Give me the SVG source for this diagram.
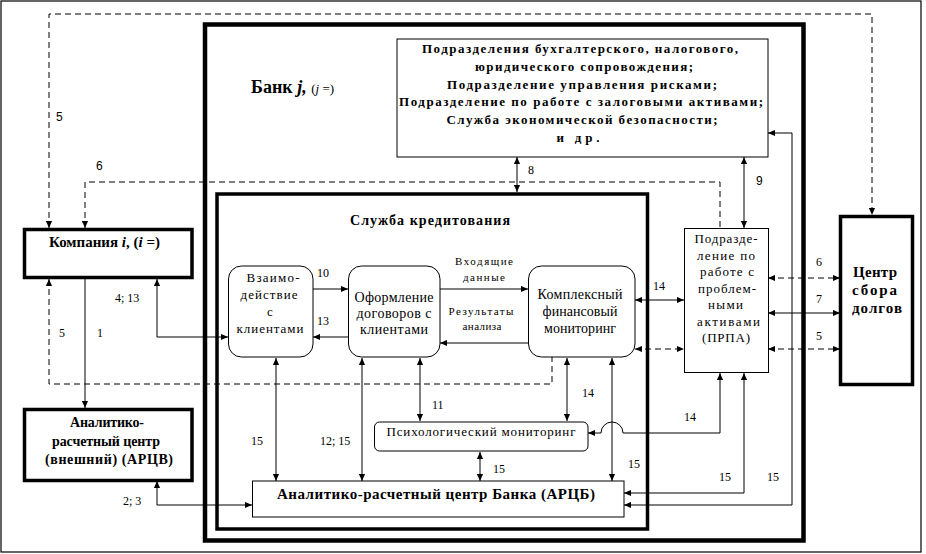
<svg xmlns="http://www.w3.org/2000/svg" width="926" height="554" viewBox="0 0 926 554">
<style>
.ln{fill:none;stroke:#000;stroke-width:1}
.ds{stroke-dasharray:6 4}
.bx{fill:#fff;stroke:#000;stroke-width:1}
.tk{fill:#fff;stroke:#000;stroke-width:3.5}
.t{font-family:"Liberation Serif","Times New Roman",serif;fill:#000}
.s{font-family:"Liberation Sans",Arial,sans-serif;fill:#000}
.b{font-weight:bold}
.n{font-size:12px}
.m{text-anchor:middle}
</style>
<defs>
<marker id="a" viewBox="0 0 8 8" refX="8" refY="4" markerWidth="7" markerHeight="7" markerUnits="userSpaceOnUse" orient="auto-start-reverse"><path d="M0,0.5 L8,4 L0,7.5 z" fill="#000"/></marker>
</defs>
<rect x="1" y="1" width="920" height="551" fill="#fff" stroke="#000" stroke-width="1.2"/>

<g id="bank">
<rect x="205" y="24.5" width="598.5" height="516" fill="none" stroke="#000" stroke-width="4.5"/>
<text class="t" x="251" y="93"><tspan class="b" font-size="18">Банк </tspan><tspan class="b" font-size="18" font-style="italic">j, </tspan><tspan font-size="13">(</tspan><tspan font-size="13" font-style="italic">j</tspan><tspan font-size="13"> =)</tspan></text>
</g>

<g id="credit-service">
<rect x="217" y="194" width="430.5" height="335" fill="none" stroke="#000" stroke-width="3.5"/>
<text class="t b" x="350" y="225" font-size="14" textLength="160" lengthAdjust="spacing">Служба кредитования</text>
</g>

<g id="connectors">
<path class="ln ds" d="M49,228 V14 H872 V215" marker-start="url(#a)" marker-end="url(#a)"/>
<path class="ln ds" d="M85,228 V182 H720 V228" marker-start="url(#a)"/>
<path class="ln ds" d="M49,279 V384 H552 V357" marker-start="url(#a)"/>
<path class="ln" d="M85,279 V408" marker-end="url(#a)"/>
<path class="ln" d="M157,279 V337 H228" marker-start="url(#a)" marker-end="url(#a)"/>
<path class="ln ds" d="M313,337 H230" marker-end="url(#a)"/>
<path class="ln" d="M313,289 H348" marker-end="url(#a)"/>
<path class="ln" d="M348,337 H313" marker-end="url(#a)"/>
<path class="ln" d="M440,289 H528" marker-end="url(#a)"/>
<path class="ln" d="M528,343 H440" marker-end="url(#a)"/>
<path class="ln" d="M635,300 H684" marker-start="url(#a)" marker-end="url(#a)"/>
<path class="ln ds" d="M635,349 H684" marker-start="url(#a)" marker-end="url(#a)"/>
<path class="ln ds" d="M684,349 H768"/>
<path class="ln ds" d="M768,349 H840" marker-start="url(#a)" marker-end="url(#a)"/>
<path class="ln ds" d="M768,278 H840" marker-start="url(#a)" marker-end="url(#a)"/>
<path class="ln" d="M768,313 H840" marker-start="url(#a)" marker-end="url(#a)"/>
<path class="ln" d="M517,157 V192" marker-start="url(#a)" marker-end="url(#a)"/>
<path class="ln" d="M744,157 V228" marker-start="url(#a)" marker-end="url(#a)"/>
<path class="ln" d="M624,505 H792 V133 H768" marker-start="url(#a)" marker-end="url(#a)"/>
<path class="ln" d="M744,373 V493 H624" marker-start="url(#a)" marker-end="url(#a)"/>
<path class="ln" d="M720,373 V433 H623 A11,11 0 0 0 601,433 H588" marker-start="url(#a)" marker-end="url(#a)"/>
<path class="ln" d="M157,481 V505 H252" marker-start="url(#a)" marker-end="url(#a)"/>
<path class="ln" d="M276,358 V481" marker-start="url(#a)" marker-end="url(#a)"/>
<path class="ln" d="M362,358 V481" marker-start="url(#a)" marker-end="url(#a)"/>
<path class="ln" d="M420,358 V421" marker-start="url(#a)" marker-end="url(#a)"/>
<path class="ln" d="M567,358 V421" marker-start="url(#a)" marker-end="url(#a)"/>
<path class="ln" d="M612,358 V481" marker-start="url(#a)" marker-end="url(#a)"/>
<path class="ln" d="M480,452 V481" marker-start="url(#a)" marker-end="url(#a)"/>
<g class="s n">
<text x="56" y="121">5</text>
<text x="96" y="170">6</text>
<text x="756" y="185">9</text>
</g>
<g class="t n">
<text x="115" y="302">4; 13</text>
<text x="59" y="337">5</text>
<text x="97" y="337">1</text>
<text x="317" y="277">10</text>
<text x="317" y="325">13</text>
<text x="528" y="174">8</text>
<text x="653" y="290">14</text>
<text x="816" y="266">6</text>
<text x="816" y="303">7</text>
<text x="816" y="340">5</text>
<text x="251" y="445">15</text>
<text x="320" y="445">12; 15</text>
<text x="432" y="409">11</text>
<text x="582" y="397">14</text>
<text x="628" y="468">15</text>
<text x="493" y="473">15</text>
<text x="684" y="421">14</text>
<text x="719" y="481">15</text>
<text x="767" y="481">15</text>
<text x="123" y="505">2; 3</text>
</g>
<g class="t" font-size="11">
<text class="m" x="484" y="265" textLength="58" lengthAdjust="spacing">Входящие</text>
<text class="m" x="484" y="281" textLength="42" lengthAdjust="spacing">данные</text>
<text class="m" x="481" y="315" textLength="65" lengthAdjust="spacing">Результаты</text>
<text class="m" x="482" y="330" textLength="39" lengthAdjust="spacing">анализа</text>
</g>
</g>

<g id="departments">
<rect class="bx" x="397" y="39" width="371" height="118"/>
<g class="t b m" font-size="13">
<text x="580" y="53" textLength="316" lengthAdjust="spacing">Подразделения бухгалтерского, налогового,</text>
<text x="584" y="71" textLength="218" lengthAdjust="spacing">юридического сопровождения;</text>
<text x="582" y="88.5" textLength="270" lengthAdjust="spacing">Подразделение управления рисками;</text>
<text x="581" y="106" textLength="364" lengthAdjust="spacing">Подразделение по работе с залоговыми активами;</text>
<text x="582" y="124" textLength="271" lengthAdjust="spacing">Служба экономической безопасности;</text>
<text x="578" y="142" textLength="43" lengthAdjust="spacing">и др.</text>
</g>
</g>

<g id="company">
<rect class="tk" x="24.5" y="229.5" width="167.5" height="48" stroke-width="3"/>
<text class="t b" x="49" y="247" font-size="15">Компания <tspan font-style="italic">i</tspan>, (<tspan font-style="italic">i</tspan> =)</text>
</g>

<g id="arcv">
<rect class="tk" x="24.5" y="409.5" width="167.5" height="71" stroke-width="3"/>
<g class="t b m" font-size="14">
<text x="107" y="427" textLength="74" lengthAdjust="spacing">Аналитико-</text>
<text x="106" y="446" textLength="108" lengthAdjust="spacing">расчетный центр</text>
<text x="109" y="464" textLength="128" lengthAdjust="spacing">(внешний) (АРЦВ)</text>
</g>
</g>

<g id="interaction">
<rect class="bx" x="228.5" y="266" width="84.5" height="91" rx="13"/>
<g class="t m" font-size="13">
<text x="273" y="282" textLength="53" lengthAdjust="spacing">Взаимо-</text>
<text x="269" y="299" textLength="57" lengthAdjust="spacing">действие</text>
<text x="270" y="316">с</text>
<text x="270" y="333" textLength="67" lengthAdjust="spacing">клиентами</text>
</g>
</g>

<g id="contracts">
<rect class="bx" x="348.5" y="266" width="91.5" height="91" rx="13"/>
<g class="t m" font-size="14">
<text x="394" y="302" textLength="79" lengthAdjust="spacing">Оформление</text>
<text x="394" y="318" textLength="75" lengthAdjust="spacing">договоров с</text>
<text x="394" y="334" textLength="68" lengthAdjust="spacing">клиентами</text>
</g>
</g>

<g id="monitoring">
<rect class="bx" x="528.5" y="266" width="106.5" height="91" rx="13"/>
<g class="t m" font-size="14">
<text x="580" y="299" textLength="85" lengthAdjust="spacing">Комплексный</text>
<text x="580" y="316" textLength="75" lengthAdjust="spacing">финансовый</text>
<text x="580" y="333" textLength="72" lengthAdjust="spacing">мониторинг</text>
</g>
</g>

<g id="psych">
<rect class="bx" x="374.5" y="422" width="213.5" height="29" rx="5"/>
<text class="t m" x="481" y="436" font-size="13" textLength="189" lengthAdjust="spacing">Психологический мониторинг</text>
</g>

<g id="arcb">
<rect class="bx" x="252.5" y="481" width="371.5" height="36"/>
<text class="t b m" x="436" y="499" font-size="15" textLength="318" lengthAdjust="spacing">Аналитико-расчетный центр Банка (АРЦБ)</text>
</g>

<g id="prpa">
<rect class="bx" x="684.5" y="228.5" width="84" height="144"/>
<g class="t m" font-size="13">
<text x="726" y="243" textLength="63" lengthAdjust="spacing">Подразде-</text>
<text x="726" y="259.5" textLength="58" lengthAdjust="spacing">ление по</text>
<text x="727" y="276" textLength="54" lengthAdjust="spacing">работе с</text>
<text x="727" y="292.5" textLength="58" lengthAdjust="spacing">проблем-</text>
<text x="725.5" y="309" textLength="35" lengthAdjust="spacing">ными</text>
<text x="728.5" y="325.5" textLength="63" lengthAdjust="spacing">активами</text>
<text x="726" y="342" textLength="48" lengthAdjust="spacing">(ПРПА)</text>
</g>
</g>

<g id="debt-center">
<rect class="tk" x="840.5" y="216.5" width="72" height="168" stroke-width="3"/>
<g class="t b m" font-size="15">
<text x="875" y="277" textLength="44" lengthAdjust="spacing">Центр</text>
<text x="874.5" y="295" textLength="45" lengthAdjust="spacing">сбора</text>
<text x="877" y="313" textLength="50" lengthAdjust="spacing">долгов</text>
</g>
</g>
</svg>
